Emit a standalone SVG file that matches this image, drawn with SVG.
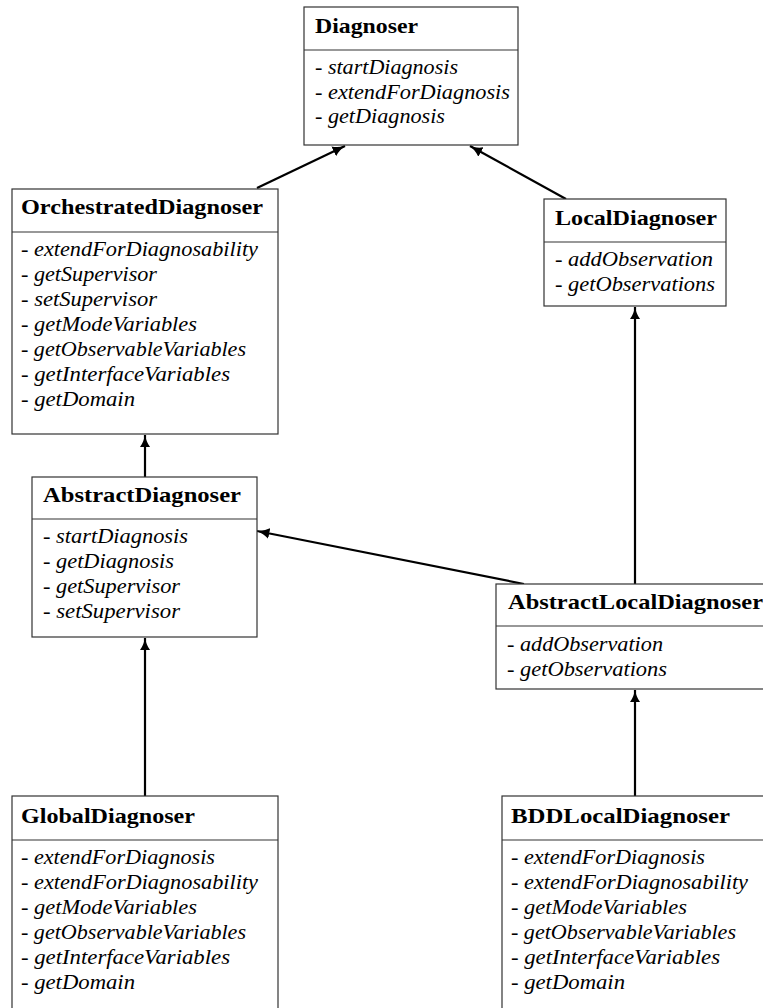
<svg xmlns="http://www.w3.org/2000/svg" width="763" height="1008" viewBox="0 0 763 1008">
  <style>
    .box { fill: #ffffff; stroke: #333; stroke-width: 1.2; }
    .sep { stroke: #333; stroke-width: 1.2; }
    .title { font-family: "Liberation Serif", "DejaVu Serif", serif; font-weight: bold; font-size: 21px; fill: #000; }
    .item { font-family: "Liberation Serif", "DejaVu Serif", serif; font-style: italic; font-size: 20.5px; fill: #000; }
    .edge { stroke: #000; stroke-width: 2.2; fill: none; marker-end: url(#head); }
  </style>
  <defs>
    <marker id="head" viewBox="0 0 12 10" refX="11.5" refY="5" markerWidth="13" markerHeight="11" markerUnits="userSpaceOnUse" orient="auto">
      <path d="M0,0 Q5,4 12,5 Q5,6 0,10 Z" fill="#000"/>
    </marker>
  </defs>

  <!-- inheritance connectors -->
  <g id="connectors">
    <line class="edge" x1="257" y1="188" x2="345" y2="146"/>
    <line class="edge" x1="566" y1="199" x2="470" y2="146"/>
    <line class="edge" x1="145" y1="477" x2="145" y2="435"/>
    <line class="edge" x1="524" y1="584" x2="257" y2="531"/>
    <line class="edge" x1="635" y1="584" x2="635" y2="307"/>
    <line class="edge" x1="145" y1="796" x2="145" y2="638"/>
    <line class="edge" x1="635" y1="796" x2="635" y2="690"/>
  </g>

  <g id="Diagnoser">
    <rect class="box" x="304" y="7" width="214" height="138"/>
    <line class="sep" x1="304" y1="50" x2="518" y2="50"/>
    <text class="title" x="315" y="33" textLength="103" lengthAdjust="spacingAndGlyphs">Diagnoser</text>
    <text class="item" x="315" y="74" textLength="143" lengthAdjust="spacingAndGlyphs">- startDiagnosis</text>
    <text class="item" x="315" y="99" textLength="195" lengthAdjust="spacingAndGlyphs">- extendForDiagnosis</text>
    <text class="item" x="315" y="123" textLength="130" lengthAdjust="spacingAndGlyphs">- getDiagnosis</text>
  </g>

  <g id="OrchestratedDiagnoser">
    <rect class="box" x="12" y="189" width="266" height="245"/>
    <line class="sep" x1="12" y1="232" x2="278" y2="232"/>
    <text class="title" x="21" y="214" textLength="242" lengthAdjust="spacingAndGlyphs">OrchestratedDiagnoser</text>
    <text class="item" x="21" y="256" textLength="237" lengthAdjust="spacingAndGlyphs">- extendForDiagnosability</text>
    <text class="item" x="21" y="281" textLength="136" lengthAdjust="spacingAndGlyphs">- getSupervisor</text>
    <text class="item" x="21" y="306" textLength="136" lengthAdjust="spacingAndGlyphs">- setSupervisor</text>
    <text class="item" x="21" y="331" textLength="176" lengthAdjust="spacingAndGlyphs">- getModeVariables</text>
    <text class="item" x="21" y="356" textLength="225" lengthAdjust="spacingAndGlyphs">- getObservableVariables</text>
    <text class="item" x="21" y="381" textLength="209" lengthAdjust="spacingAndGlyphs">- getInterfaceVariables</text>
    <text class="item" x="21" y="406" textLength="114" lengthAdjust="spacingAndGlyphs">- getDomain</text>
  </g>

  <g id="LocalDiagnoser">
    <rect class="box" x="544" y="199" width="182" height="107"/>
    <line class="sep" x1="544" y1="242" x2="726" y2="242"/>
    <text class="title" x="555" y="225" textLength="162" lengthAdjust="spacingAndGlyphs">LocalDiagnoser</text>
    <text class="item" x="555" y="266" textLength="158" lengthAdjust="spacingAndGlyphs">- addObservation</text>
    <text class="item" x="555" y="291" textLength="160" lengthAdjust="spacingAndGlyphs">- getObservations</text>
  </g>

  <g id="AbstractDiagnoser">
    <rect class="box" x="32" y="477" width="225" height="160"/>
    <line class="sep" x1="32" y1="519" x2="257" y2="519"/>
    <text class="title" x="43" y="502" textLength="198" lengthAdjust="spacingAndGlyphs">AbstractDiagnoser</text>
    <text class="item" x="43" y="543" textLength="145" lengthAdjust="spacingAndGlyphs">- startDiagnosis</text>
    <text class="item" x="43" y="568" textLength="131" lengthAdjust="spacingAndGlyphs">- getDiagnosis</text>
    <text class="item" x="43" y="593" textLength="137" lengthAdjust="spacingAndGlyphs">- getSupervisor</text>
    <text class="item" x="43" y="618" textLength="137" lengthAdjust="spacingAndGlyphs">- setSupervisor</text>
  </g>

  <g id="AbstractLocalDiagnoser">
    <rect class="box" x="496" y="584" width="280" height="105"/>
    <line class="sep" x1="496" y1="626" x2="776" y2="626"/>
    <text class="title" x="508" y="609" textLength="255" lengthAdjust="spacingAndGlyphs">AbstractLocalDiagnoser</text>
    <text class="item" x="507" y="651" textLength="156" lengthAdjust="spacingAndGlyphs">- addObservation</text>
    <text class="item" x="507" y="676" textLength="160" lengthAdjust="spacingAndGlyphs">- getObservations</text>
  </g>

  <g id="GlobalDiagnoser">
    <rect class="box" x="12" y="796" width="266" height="230"/>
    <line class="sep" x1="12" y1="840" x2="278" y2="840"/>
    <text class="title" x="21" y="823" textLength="174" lengthAdjust="spacingAndGlyphs">GlobalDiagnoser</text>
    <text class="item" x="21" y="864" textLength="194" lengthAdjust="spacingAndGlyphs">- extendForDiagnosis</text>
    <text class="item" x="21" y="889" textLength="237" lengthAdjust="spacingAndGlyphs">- extendForDiagnosability</text>
    <text class="item" x="21" y="914" textLength="176" lengthAdjust="spacingAndGlyphs">- getModeVariables</text>
    <text class="item" x="21" y="939" textLength="225" lengthAdjust="spacingAndGlyphs">- getObservableVariables</text>
    <text class="item" x="21" y="964" textLength="209" lengthAdjust="spacingAndGlyphs">- getInterfaceVariables</text>
    <text class="item" x="21" y="989" textLength="114" lengthAdjust="spacingAndGlyphs">- getDomain</text>
  </g>

  <g id="BDDLocalDiagnoser">
    <rect class="box" x="502" y="796" width="280" height="230"/>
    <line class="sep" x1="502" y1="840" x2="782" y2="840"/>
    <text class="title" x="511" y="823" textLength="219" lengthAdjust="spacingAndGlyphs">BDDLocalDiagnoser</text>
    <text class="item" x="511" y="864" textLength="194" lengthAdjust="spacingAndGlyphs">- extendForDiagnosis</text>
    <text class="item" x="511" y="889" textLength="237" lengthAdjust="spacingAndGlyphs">- extendForDiagnosability</text>
    <text class="item" x="511" y="914" textLength="176" lengthAdjust="spacingAndGlyphs">- getModeVariables</text>
    <text class="item" x="511" y="939" textLength="225" lengthAdjust="spacingAndGlyphs">- getObservableVariables</text>
    <text class="item" x="511" y="964" textLength="209" lengthAdjust="spacingAndGlyphs">- getInterfaceVariables</text>
    <text class="item" x="511" y="989" textLength="114" lengthAdjust="spacingAndGlyphs">- getDomain</text>
  </g>
</svg>
